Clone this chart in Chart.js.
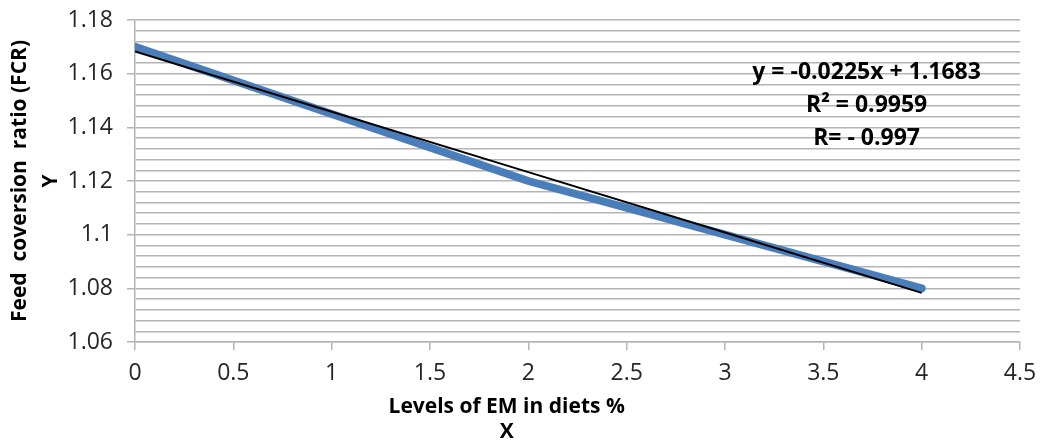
<!DOCTYPE html>
<html>
<head>
<meta charset="utf-8">
<script src="https://cdn.jsdelivr.net/npm/chart.js@4"></script>
<style>
  html, body { margin: 0; padding: 0; background: #fff; }
  #wrap { width: 1040px; height: 442px; }
</style>
</head>
<body>
<div id="wrap"><canvas id="fcrChart"></canvas></div>
<script>
const emLevels = [0, 1, 2, 3, 4];
const fcrValues = [1.17, 1.145, 1.12, 1.10, 1.08];
const trendSlope = -0.0225;
const trendIntercept = 1.1683;
const yTickLabels = [1.06, 1.08, 1.1, 1.12, 1.14, 1.16, 1.18];
const xTickLabels = [0, 0.5, 1, 1.5, 2, 2.5, 3, 3.5, 4, 4.5];
const equationLines = ['y = -0.0225x + 1.1683', 'R² = 0.9959', 'R= - 0.997'];
const xTitleLines = ['Levels of EM in diets %', 'X'];
const yTitleLines = ['Feed  coversion  ratio (FCR)', 'Y'];

const FONT = '"Open Sans", "Liberation Sans", sans-serif';
const GRID = '#b4b4b4';

const isMajor = v => yTickLabels.some(t => Math.abs(t - v) < 1e-6);

// text drawn on top: trendline equation and the x title (sits left of centre in the original)
const textPlugin = {
  id: 'textPlugin',
  afterDraw(chart) {
    const ctx = chart.ctx;
    const x = chart.scales.x, y = chart.scales.y;
    ctx.save();
    ctx.fillStyle = '#000';
    ctx.textAlign = 'center';
    ctx.textBaseline = 'middle';
    ctx.font = 'bold 23px ' + FONT;
    const ex = x.getPixelForValue(3.72);
    const ey = y.getPixelForValue(1.1606);
    equationLines.forEach((t, i) => ctx.fillText(t, ex, ey + i * 33));
    ctx.font = 'bold 21px ' + FONT;
    const tx = x.getPixelForValue(1.89);
    ctx.fillText(xTitleLines[0], tx, chart.chartArea.bottom + 65);
    ctx.fillText(xTitleLines[1], tx, chart.chartArea.bottom + 90);
    ctx.restore();
  }
};

new Chart(document.getElementById('fcrChart').getContext('2d'), {
  type: 'line',
  data: {
    datasets: [
      {
        label: 'Trend',
        data: emLevels.map(v => ({ x: v, y: trendIntercept + trendSlope * v })),
        borderColor: '#000',
        borderWidth: 2,
        pointRadius: 0,
        order: 0
      },
      {
        label: 'FCR',
        data: emLevels.map((v, i) => ({ x: v, y: fcrValues[i] })),
        borderColor: '#4a7ebb',
        borderWidth: 8,
        borderCapStyle: 'round',
        borderJoinStyle: 'round',
        pointRadius: 0,
        order: 1
      }
    ]
  },
  options: {
    responsive: true,
    maintainAspectRatio: false,
    animation: false,
    layout: { padding: { top: 20, right: 20, left: 0, bottom: 0 } },
    plugins: {
      legend: { display: false },
      tooltip: { enabled: false }
    },
    scales: {
      x: {
        type: 'linear',
        min: 0,
        max: 4.5,
        afterBuildTicks: s => { s.ticks = xTickLabels.map(v => ({ value: v })); },
        ticks: {
          color: '#262626',
          font: { family: FONT, size: 23 },
          padding: 10,
          maxRotation: 0,
          callback: v => String(v)
        },
        grid: {
          drawOnChartArea: false,
          color: GRID,
          lineWidth: 1.5,
          tickLength: 8
        },
        border: { color: GRID, width: 1.5 },
        afterFit: s => { s.height = 100; s.paddingLeft = 0; s.paddingRight = 0; }
      },
      y: {
        type: 'linear',
        min: 1.06,
        max: 1.18,
        ticks: {
          stepSize: 0.004,
          autoSkip: false,
          color: '#262626',
          font: { family: FONT, size: 23 },
          padding: 14,
          callback: v => isMajor(v) ? String(Math.round(v * 100) / 100) : ''
        },
        grid: {
          color: GRID,
          lineWidth: 1.5,
          tickLength: 8,
          tickColor: c => (c.tick && isMajor(c.tick.value)) ? GRID : 'rgba(0,0,0,0)'
        },
        border: { color: GRID, width: 1.5 },
        title: {
          display: true,
          text: yTitleLines,
          color: '#000',
          font: { family: FONT, size: 21, weight: 'bold', lineHeight: 1.5 },
          padding: { top: 4, bottom: 0 }
        },
        afterFit: s => { s.width = 135; s.paddingTop = 0; s.paddingBottom = 0; }
      }
    }
  },
  plugins: [textPlugin]
});
</script>
</body>
</html>
